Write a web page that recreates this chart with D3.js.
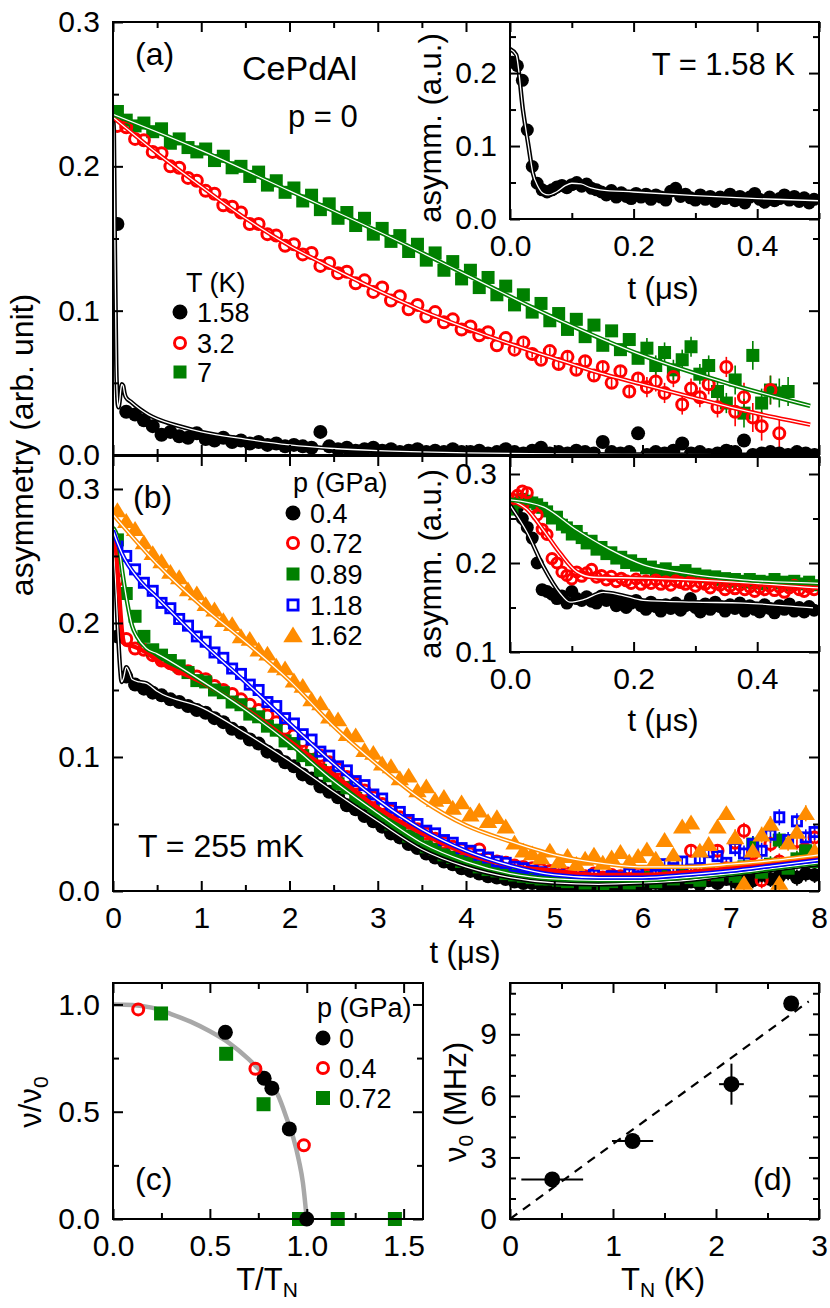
<!DOCTYPE html>
<html>
<head>
<meta charset="utf-8">
<script src="https://cdn.jsdelivr.net/npm/d3@7"></script>
<style>
  body { margin: 0; background: #fff; }
  svg { display: block; }
</style>
</head>
<body>
<div id="chart"></div>
<script>
// ---------------- data ----------------
// time bins of the main spectra (us), bin centres every 0.1 us
const tBins = d3.range(80).map(i => +(0.05 + 0.1 * i).toFixed(2));
// time bins of the early-time insets (us), every 8 ns
const tInset = d3.range(62).map(i => +(0.004 + 0.008 * i).toFixed(3));

// asymmetry values below are in units of 1e-3
// (a) p = 0, three temperatures
const a158K = [160,30,28,24,20,14,16,13,12,15, 11,10,12,9,10,8,9,7,8,6, 7,6,5,16,6,4,5,3,4,5,
  3,4,2,3,4,2,3,2,4,2, 2,3,1,2,4,2,1,3,5,1, 2,1,3,2,1,9,2,1,2,15, 0,2,1,3,8,1,2,0,1,3, 2,10,0,1,2,1,0,2,1,0];
const a32K = [228,227,219,218,210,209,200,199,192,190, 183,181,173,172,168,160,160,153,152,145,
  146,139,140,131,133,126,127,119,121,113, 116,107,110,101,104,96,99,92,94,87, 89,83,85,76,81,73,78,70,66,72,
  63,68,59,65,55,61,50,58,44,53, 47,51,43,54,35,46,40,49,33,61, 30,40,26,20,45,15];
const a7K = [238,232,228,230,224,226,216,219,213,210, 212,204,207,199,200,193,196,187,190,182,
  185,176,180,170,174,164,168,159,164,153, 157,148,152,141,146,135,140,128,134,122, 128,116,123,111,117,104,111,99,105,93,
  98,87,94,82,90,76,86,73,80,67, 74,62,71,59,66,75,56,62,44,36, 52,29,69,36,45,43,44];
const aInset158K = [215,210,190,122,72,49,40,37,40,44, 46,43,47,50,45,48,42,40,37,33, 39,30,36,31,28,35,30,34,27,33,
  30,26,38,42,31,34,29,26,33,27, 31,24,30,28,34,25,31,22,30,35, 27,23,30,25,28,33,26,31,24,29, 22,27];

// (b) T = 255 mK, five pressures
const b040 = [190,160,154,151,148,146,143,141,138,135, 133,129,126,121,118,113,110,104,101,96, 93,87,84,78,74,70,64,61,56,52,
  48,43,40,35,32,28,25,22,20,17, 15,13,11,10,9,7,6,6,5,4, 4,3,5,2,4,3,2,4,3,5, 4,6,3,5,4,7,5,8,6,9, 7,10,8,12,9,11,14,10,13,12];
const b072 = [232,188,181,180,176,172,170,166,164,160, 158,153,150,147,143,139,135,131,126,121, 116,112,106,101,96,91,85,80,75,70,
  65,60,55,51,46,43,39,36,33,31, 28,31,24,22,21,19,18,17,16,15, 14,13,12,11,13,10,12,11,9,13, 12,14,11,16,12,30,15,13,30,17,
  36,45,28,8,35,22,19,37,31,40];
const b089 = [262,222,205,190,180,176,172,168,163,157, 156,150,148,141,139,132,130,123,120,112, 110,101,98,90,86,80,77,69,66,60,
  56,50,47,41,39,33,31,27,25,22, 21,18,16,15,13,12,11,10,9,9, 8,7,9,6,8,5,7,9,6,8, 10,7,11,9,13,10,8,14,12,15,
  11,18,35,14,20,38,17,24,30,22];
const b118 = [257,250,240,230,224,215,211,203,198,190, 186,178,174,166,162,154,150,141,138,129, 125,117,113,104,101,93,90,82,79,72,
  69,62,59,53,50,45,43,38,36,32, 30,27,25,22,21,18,17,15,14,13, 12,11,13,10,12,9,11,10,13,11, 14,12,20,17,22,16,24,29,26,21,
  32,28,35,30,42,55,38,52,40,44];
const b162 = [284,276,270,260,252,246,238,234,225,222, 214,210,202,199,190,188,180,177,168,166, 157,153,143,140,130,128,117,116,105,103,
  95,93,84,86,75,78,68,70,62,66, 57,60,52,55,48,36,30,28,25,30, 22,26,20,24,27,21,25,29,22,26, 31,24,38,27,48,51,30,35,48,58,
  40,6,30,42,50,6,36,44,58,30];
const bInset040 = [265,262,250,240,228,200,170,168,165,160, 163,155,168,160,158,162,157,155,163,158, 160,152,157,150,155,158,152,148,156,151,
  146,153,149,155,147,152,160,150,145,154, 148,156,151,146,153,149,155,146,152,148, 145,153,149,144,152,148,154,146,150,145, 151,147];
const bInset072 = [272,276,281,279,262,254,238,232,205,200, 190,186,182,190,185,189,193,184,186,181, 185,179,183,180,177,182,176,180,177,181,
  176,179,175,180,178,176,179,174,178,176, 172,177,175,170,174,171,175,170,173,168, 172,170,174,169,173,167,172,175,170,168, 173,170];
const bInset089 = [260,268,272,270,268,266,262,258,250,252, 243,240,232,236,228,222,225,215,218,210, 212,205,207,200,203,197,199,194,196,192,
  190,194,188,190,186,192,185,188,184,186, 182,185,181,183,179,182,180,178,182,177, 180,176,179,182,177,179,175,180,177,176, 179,175];

// error-bar half length (1e-3) per 1-us interval of t
const errA = [1, 1, 1.5, 2, 2.5, 4, 7, 10];
const errA158K = [0.5, 0.5, 0.5, 1, 1.5, 2, 3, 4.5];
const errB = [0.5, 0.5, 1, 1.5, 2, 3, 4, 6];

// fitted curves [t (us), asymmetry]
const fitA158K = [[0,.233],[.01,.225],[.021,.149],[.03,.10],[.037,.063],[.045,.045],[.054,.035],[.062,.033],[.075,.037],
  [.09,.046],[.1,.049],[.115,.048],[.13,.043],[.146,.040],[.2,.037],[.3,.032],[.4,.028],[.5,.025],[.75,.020],[1,.016],
  [1.5,.011],[2,.007],[2.5,.0045],[3,.003],[4,.0015],[5,.0008],[6,.0004],[8,.0002]];
const fitA32K = [[0,.234],[.5,.209],[1,.186],[1.5,.164],[2,.145],[2.5,.129],[3,.114],[3.5,.100],[4,.088],[4.5,.077],
  [5,.067],[5.5,.057],[6,.049],[6.5,.041],[7,.033],[7.5,.026],[7.9,.021]];
const fitA7K = [[0,.236],[1,.211],[2,.183],[3,.155],[4,.125],[5,.095],[6,.069],[7,.049],[7.9,.034]];
const fitB040 = [[0,.265],[.028,.234],[.054,.196],[.081,.166],[.097,.156],[.12,.159],[.151,.167],[.18,.164],[.216,.158],
  [.297,.156],[.378,.155],[.5,.149],[1,.137],[1.5,.118],[2,.097],[2.5,.074],[3,.052],[3.5,.031],[4,.018],[4.5,.010],
  [5,.006],[5.5,.005],[6,.006],[6.5,.008],[7,.012],[7.5,.016],[8,.020]];
const fitB072 = [[0,.271],[.028,.26],[.054,.237],[.081,.211],[.108,.19],[.135,.184],[.216,.183],[.378,.178],[.5,.172],
  [1,.156],[1.5,.136],[2,.112],[2.5,.087],[3,.062],[3.5,.043],[4,.028],[4.5,.019],[5,.015],[5.5,.012],[6,.012],
  [6.5,.014],[7,.017],[7.5,.021],[8,.025]];
const fitB089 = [[0,.271],[.054,.263],[.108,.237],[.162,.215],[.216,.198],[.27,.19],[.378,.181],[.5,.177],[1,.157],
  [1.5,.135],[2,.110],[2.5,.082],[3,.058],[3.5,.036],[4,.022],[4.5,.013],[5,.009],[5.5,.008],[6,.008],[6.5,.010],
  [7,.013],[7.5,.017],[8,.021]];
const fitB118 = [[0,.269],[.05,.26],[.1,.252],[.3,.232],[.5,.219],[1,.186],[1.5,.156],[2,.125],[2.5,.095],[3,.068],
  [3.5,.046],[4,.030],[4.5,.019],[5,.012],[5.5,.010],[6,.010],[6.5,.012],[7,.015],[7.5,.019],[8,.023]];
const fitB162 = [[0,.281],[.5,.244],[1,.213],[1.5,.186],[2,.157],[2.5,.123],[3,.094],[3.5,.068],[4,.049],[4.5,.037],
  [5,.027],[5.5,.021],[6,.018],[6.5,.018],[7,.020],[7.5,.023],[8,.027]];

// (c) normalised frequency vs T/TN
const cT0 = [0.58, 0.78, 0.82, 0.91, 1.0],            cNu0 = [0.87, 0.656, 0.61, 0.42, 0.0];
const cT04 = [0.13, 0.735, 0.985],                    cNu04 = [0.977, 0.70, 0.344];
const cT072 = [0.248, 0.584, 0.777, 0.96, 1.16, 1.455], cNu072 = [0.958, 0.77, 0.535, 0.0, 0.0, 0.0];
const cFit = [[0,1],[.1,.998],[.2,.985],[.3,.955],[.4,.92],[.5,.875],[.6,.82],[.7,.745],[.75,.70],[.8,.65],
  [.85,.58],[.9,.46],[.93,.38],[.96,.27],[.98,.17],[1.0,0]];

// (d) nu0 vs TN
const dTN = [0.41, 1.19, 2.15, 2.73];
const dNu0 = [1.93, 3.8, 6.57, 10.5];
const dTNerr = [0.3, 0.2, 0.12, 0];
const dNuErr = [0, 0, 1.0, 0];
const dFit = [[0, 0], [2.9, 10.6]];

// tick values
const tMajor = [0,1,2,3,4,5,6,7,8], tMinor = [0.5,1.5,2.5,3.5,4.5,5.5,6.5,7.5];
const asyMajor = [0, 0.1, 0.2, 0.3], asyMinor = [0.05, 0.15, 0.25];
const tiMajor = [0, 0.2, 0.4], tiMinor = [0.1, 0.3, 0.5];
const asyBiMajor = [0.1, 0.2, 0.3], asyBiMinor = [0.15, 0.25];
const cxMajor = [0, 0.5, 1, 1.5], cxMinor = [0.25, 0.75, 1.25];
const cyMajor = [0, 0.5, 1], cyMinor = [0.25, 0.75];
const dxMajor = [0, 1, 2, 3], dxMinor = [0.5, 1.5, 2.5];
const dyMajor = [0, 3, 6, 9], dyMinor = [1, 2, 4, 5, 7, 8, 10, 11];

// ---------------- drawing ----------------
const FONT = "'Liberation Sans', Arial, Helvetica, sans-serif";
const RED = "#ff0000", GREEN = "#008000", BLUE = "#0000ff", ORANGE = "#ff8c00", BLACK = "#000000";

const svg = d3.select("#chart").append("svg")
  .attr("width", 830).attr("height", 1308).style("font-family", FONT);
svg.append("defs");

function panel(id, box, xDom, yDom) {
  const x = d3.scaleLinear().domain(xDom).range([box.l, box.r]);
  const y = d3.scaleLinear().domain(yDom).range([box.b, box.t]);
  const g = svg.append("g");
  g.append("rect").attr("x", box.l).attr("y", box.t)
    .attr("width", box.r - box.l).attr("height", box.b - box.t).attr("fill", "#fff");
  svg.select("defs").append("clipPath").attr("id", id).append("rect")
    .attr("x", box.l).attr("y", box.t).attr("width", box.r - box.l).attr("height", box.b - box.t);
  const clipped = g.append("g").attr("clip-path", `url(#${id})`);
  const free = g.append("g");
  return { x, y, g, clipped, free, box };
}

function axes(p, o) {
  const { x, y, g, box } = p;
  const sides = [
    [() => d3.axisBottom(x), 0, box.b, o.xMaj, o.xMin, o.xFmt, 16],
    [() => d3.axisTop(x), 0, box.t, o.xMaj, o.xMin, null, 0],
    [() => d3.axisLeft(y), box.l, 0, o.yMaj, o.yMin, o.yFmt, 13],
    [() => d3.axisRight(y), box.r, 0, o.yMaj, o.yMin, null, 0]
  ];
  for (const [mk, tx, ty, maj, min, fmt, pad] of sides) {
    for (const [vals, len, f] of [[min, 6, null], [maj, 10, fmt]]) {
      const a = g.append("g").attr("transform", `translate(${tx},${ty})`)
        .call(mk().tickValues(vals).tickSizeInner(-len).tickSizeOuter(0).tickPadding(pad)
          .tickFormat(f ? d3.format(f) : () => ""));
      a.select(".domain").remove();
      a.selectAll("line").attr("stroke-width", 2);
      a.attr("font-size", 30).attr("font-family", FONT);
    }
  }
  g.append("rect").attr("x", box.l).attr("y", box.t)
    .attr("width", box.r - box.l).attr("height", box.b - box.t)
    .attr("fill", "none").attr("stroke", "#000").attr("stroke-width", 2);
}

function shape(sel, type, color, s) {
  const h = s / 2;
  if (type === "disc") sel.append("circle").attr("r", h).attr("fill", color);
  if (type === "ring") sel.append("circle").attr("r", h - 1.5).attr("fill", "none")
    .attr("stroke", color).attr("stroke-width", 3);
  if (type === "square") sel.append("rect").attr("x", -h).attr("y", -h)
    .attr("width", s).attr("height", s).attr("fill", color);
  if (type === "box") sel.append("rect").attr("x", -h + 1.4).attr("y", -h + 1.4)
    .attr("width", s - 2.8).attr("height", s - 2.8).attr("fill", "none")
    .attr("stroke", color).attr("stroke-width", 2.8);
  if (type === "tri") sel.append("path")
    .attr("d", `M0,${-h * 0.95}L${h * 1.08},${h * 0.8}L${-h * 1.08},${h * 0.8}Z`).attr("fill", color);
}

const pairs = (xs, ys, k = 1e-3) => ys.map((v, i) => [xs[i], v * k]);

function marks(layer, p, pts, type, color, size) {
  const sel = layer.append("g").selectAll("g").data(pts).join("g")
    .attr("transform", d => `translate(${p.x(d[0])},${p.y(d[1])})`);
  shape(sel, type, color, size);
}

function errBars(layer, p, pts, err, color) {
  layer.append("g").attr("stroke", color).attr("stroke-width", 1.6)
    .selectAll("line").data(pts).join("line")
    .attr("x1", d => p.x(d[0])).attr("x2", d => p.x(d[0]))
    .attr("y1", d => p.y(d[1] - err[Math.floor(d[0])] * 1e-3))
    .attr("y2", d => p.y(d[1] + err[Math.floor(d[0])] * 1e-3));
}

const lineGen = p => d3.line().x(d => p.x(d[0])).y(d => p.y(d[1])).curve(d3.curveMonotoneX);
function fit(layer, p, pts, color, core = true, width = 4.4) {
  layer.append("path").attr("d", lineGen(p)(pts)).attr("fill", "none")
    .attr("stroke", color).attr("stroke-width", width).attr("stroke-linejoin", "round");
  if (core) layer.append("path").attr("d", lineGen(p)(pts)).attr("fill", "none")
    .attr("stroke", "#fff").attr("stroke-width", 1.3);
}

function text(x, y, s, size, anchor = "start") {
  return svg.append("text").attr("x", x).attr("y", y).attr("font-size", size)
    .attr("text-anchor", anchor).text(s);
}

function legendRow(mx, my, type, color, size, tx, label, fs) {
  const g = svg.append("g").attr("transform", `translate(${mx},${my})`);
  shape(g, type, color, size);
  text(tx, my + 10, label, fs);
}

// ----- panel (a) -----
const pA = panel("clipA", { l: 113, r: 819, t: 22, b: 455 }, [0, 8], [0, 0.3]);
{
  const s158 = pairs(tBins, a158K), s32 = pairs(tBins, a32K), s7 = pairs(tBins, a7K);
  const late = d => d[0] > 4.5;
  errBars(pA.clipped, pA, s158.filter(late), errA158K, BLACK);
  errBars(pA.clipped, pA, s32.filter(late), errA, RED);
  errBars(pA.clipped, pA, s7.filter(late), errA, GREEN);
  marks(pA.clipped, pA, s158, "disc", BLACK, 14);
  marks(pA.clipped, pA, s7, "square", GREEN, 13);
  marks(pA.clipped, pA, s32, "ring", RED, 14);
  fit(pA.clipped, pA, fitA158K, BLACK);
  fit(pA.clipped, pA, fitA32K, RED);
  fit(pA.clipped, pA, fitA7K, GREEN);
  axes(pA, { xMaj: tMajor, xMin: tMinor, xFmt: null, yMaj: asyMajor, yMin: asyMinor, yFmt: ".1f" });
}
text(135, 65, "(a)", 32);
text(242, 80, "CePdAl", 34);
text(288, 127, "p = 0", 31);
text(186, 292, "T (K)", 27);
legendRow(180, 312, "disc", BLACK, 15, 197, "1.58", 27);
legendRow(180, 343, "ring", RED, 14, 197, "3.2", 27);
legendRow(180, 372, "square", GREEN, 13, 197, "7", 27);

// inset (a)
const pAi = panel("clipAi", { l: 510, r: 819, t: 22, b: 219 }, [0, 0.5], [0, 0.27]);
{
  marks(pAi.clipped, pAi, pairs(tInset, aInset158K), "disc", BLACK, 13);
  fit(pAi.clipped, pAi, fitA158K, BLACK);
  axes(pAi, { xMaj: tiMajor, xMin: tiMinor, xFmt: ".1f", yMaj: asyMajor.slice(0, 3), yMin: asyMinor, yFmt: ".1f" });
}
text(795, 75, "T = 1.58 K", 31, "end");
svg.append("text").attr("transform", "translate(441,128) rotate(-90)")
  .attr("text-anchor", "middle").attr("font-size", 31).text("asymm. (a.u.)");
text(663, 299, "t (μs)", 31, "middle");

// ----- panel (b) -----
const pB = panel("clipB", { l: 113, r: 819, t: 456, b: 891 }, [0, 8], [0, 0.3246]);
{
  const series = [
    [b040, "disc", BLACK, 14, fitB040, true],
    [b072, "ring", RED, 14, fitB072, false],
    [b089, "square", GREEN, 13, fitB089, true],
    [b118, "box", BLUE, 12, fitB118, true],
    [b162, "tri", ORANGE, 17, fitB162, true]
  ];
  const late = d => d[0] > 4.5;
  series.forEach(([v, , c]) => errBars(pB.clipped, pB, pairs(tBins, v).filter(late), errB, c));
  series.forEach(([v, type, c, s]) => marks(pB.clipped, pB, pairs(tBins, v), type, c, s));
  series.forEach(([, , c, , f, core]) => fit(pB.clipped, pB, f, c, core));
  axes(pB, { xMaj: tMajor, xMin: tMinor, xFmt: "d", yMaj: asyMajor, yMin: asyMinor, yFmt: ".1f" });
}
text(133, 508, "(b)", 32);
text(293, 492, "p (GPa)", 27);
legendRow(293, 513, "disc", BLACK, 15, 310, "0.4", 27);
legendRow(293, 543, "ring", RED, 14, 310, "0.72", 27);
legendRow(293, 574, "square", GREEN, 13, 310, "0.89", 27);
legendRow(293, 605, "box", BLUE, 13, 310, "1.18", 27);
legendRow(293, 635, "tri", ORANGE, 18, 310, "1.62", 27);
text(138, 857, "T = 255 mK", 32);
text(465, 963, "t (μs)", 31, "middle");

// inset (b)
const pBi = panel("clipBi", { l: 510, r: 819, t: 457, b: 652 }, [0, 0.5], [0.1, 0.3191]);
{
  marks(pBi.clipped, pBi, pairs(tInset, bInset040), "disc", BLACK, 13);
  marks(pBi.clipped, pBi, pairs(tInset, bInset089), "square", GREEN, 12);
  marks(pBi.clipped, pBi, pairs(tInset, bInset072), "ring", RED, 13);
  fit(pBi.clipped, pBi, fitB040, BLACK);
  fit(pBi.clipped, pBi, fitB072, RED);
  fit(pBi.clipped, pBi, fitB089, GREEN);
  axes(pBi, { xMaj: tiMajor, xMin: tiMinor, xFmt: ".1f", yMaj: asyBiMajor, yMin: asyBiMinor, yFmt: ".1f" });
}
svg.append("text").attr("transform", "translate(441,564) rotate(-90)")
  .attr("text-anchor", "middle").attr("font-size", 31).text("asymm. (a.u.)");
text(663, 731, "t (μs)", 31, "middle");

svg.append("text").attr("transform", "translate(33,445) rotate(-90)")
  .attr("text-anchor", "middle").attr("font-size", 32).text("asymmetry (arb. unit)");

// ----- panel (c) -----
const pC = panel("clipC", { l: 113, r: 423, t: 983, b: 1219 }, [0, 1.6], [0, 1.1]);
{
  fit(pC.free, pC, cFit, "#a8a8a8", false, 4.5);
  marks(pC.free, pC, pairs(cT072, cNu072, 1), "square", GREEN, 14);
  marks(pC.free, pC, pairs(cT0, cNu0, 1), "disc", BLACK, 15);
  marks(pC.free, pC, pairs(cT04, cNu04, 1), "ring", RED, 14);
  axes(pC, { xMaj: cxMajor, xMin: cxMinor, xFmt: ".1f", yMaj: cyMajor, yMin: cyMinor, yFmt: ".1f" });
}
text(135, 1190, "(c)", 32);
text(317, 1017, "p (GPa)", 27);
legendRow(323, 1038, "disc", BLACK, 15, 339, "0", 27);
legendRow(323, 1068, "ring", RED, 14, 339, "0.4", 27);
legendRow(323, 1098, "square", GREEN, 14, 339, "0.72", 27);
{
  const t = svg.append("text").attr("transform", "translate(41,1102) rotate(-90)")
    .attr("text-anchor", "middle").attr("font-size", 31);
  t.append("tspan").text("ν/ν");
  t.append("tspan").attr("font-size", 21).attr("dy", 7).text("0");
  const u = svg.append("text").attr("x", 267).attr("y", 1290).attr("text-anchor", "middle").attr("font-size", 31);
  u.append("tspan").text("T/T");
  u.append("tspan").attr("font-size", 21).attr("dy", 7).text("N");
}

// ----- panel (d) -----
const pD = panel("clipD", { l: 510, r: 819, t: 983, b: 1219 }, [0, 3], [0, 11.5]);
{
  pD.free.append("path").attr("d", d3.line().x(d => pD.x(d[0])).y(d => pD.y(d[1]))(dFit))
    .attr("fill", "none").attr("stroke", "#000").attr("stroke-width", 2.2).attr("stroke-dasharray", "9,7");
  const eg = pD.free.append("g").attr("stroke", "#000").attr("stroke-width", 2);
  dTN.forEach((tn, i) => {
    if (dTNerr[i]) eg.append("line").attr("x1", pD.x(tn - dTNerr[i])).attr("x2", pD.x(tn + dTNerr[i]))
      .attr("y1", pD.y(dNu0[i])).attr("y2", pD.y(dNu0[i]));
    if (dNuErr[i]) eg.append("line").attr("x1", pD.x(tn)).attr("x2", pD.x(tn))
      .attr("y1", pD.y(dNu0[i] - dNuErr[i])).attr("y2", pD.y(dNu0[i] + dNuErr[i]));
  });
  marks(pD.free, pD, pairs(dTN, dNu0, 1), "disc", BLACK, 16);
  axes(pD, { xMaj: dxMajor, xMin: dxMinor, xFmt: "d", yMaj: dyMajor, yMin: dyMinor, yFmt: "d" });
}
text(753, 1190, "(d)", 32);
{
  const t = svg.append("text").attr("transform", "translate(466,1102) rotate(-90)")
    .attr("text-anchor", "middle").attr("font-size", 31);
  t.append("tspan").text("ν");
  t.append("tspan").attr("font-size", 21).attr("dy", 7).text("0");
  t.append("tspan").attr("dy", -7).text(" (MHz)");
  const u = svg.append("text").attr("x", 663).attr("y", 1290).attr("text-anchor", "middle").attr("font-size", 31);
  u.append("tspan").text("T");
  u.append("tspan").attr("font-size", 21).attr("dy", 7).text("N");
  u.append("tspan").attr("dy", -7).text(" (K)");
}
</script>
</body>
</html>
